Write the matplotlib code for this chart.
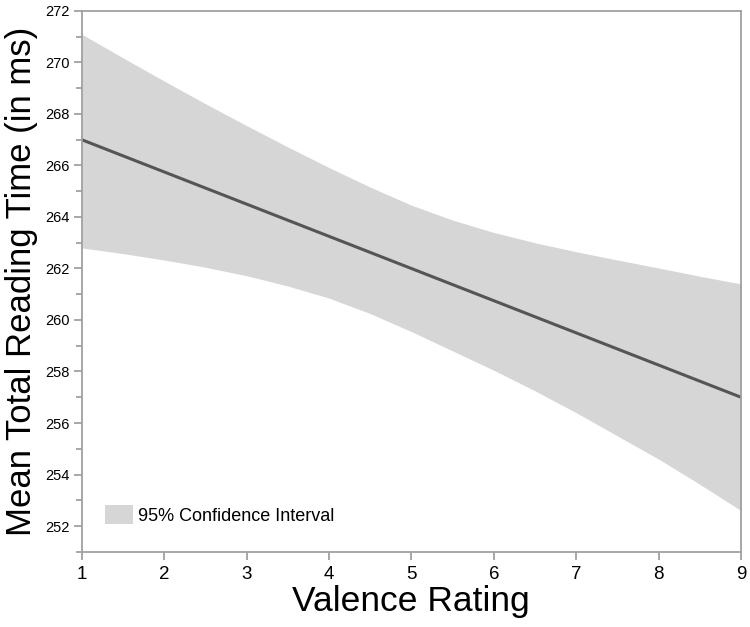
import matplotlib
matplotlib.use("Agg")
import matplotlib.pyplot as plt
from matplotlib.patches import Patch
from matplotlib.ticker import MultipleLocator

plt.rcParams['font.family'] = ['Liberation Sans', 'DejaVu Sans']

"""Regression line, read off the chart at integer ratings"""
valence = [1, 2, 3, 4, 5, 6, 7, 8, 9]
fit = [267.0, 265.75, 264.5, 263.25, 262.0, 260.75, 259.5, 258.25, 257.0]

"""Confidence band, read off the chart every half step"""
band_x = [1, 1.5, 2, 2.5, 3, 3.5, 4, 4.5, 5, 5.5, 6, 6.5, 7, 7.5, 8, 8.5, 9]
ci_upper = [271.1, 270.18, 269.28, 268.4, 267.55, 266.72, 265.92, 265.16, 264.46,
            263.88, 263.4, 263.0, 262.65, 262.33, 262.02, 261.7, 261.4]
ci_lower = [262.8, 262.58, 262.33, 262.05, 261.72, 261.32, 260.85, 260.25, 259.55,
            258.8, 258.05, 257.25, 256.4, 255.5, 254.6, 253.62, 252.6]

y_ticks = list(range(252, 273, 2))
x_ticks = list(range(1, 10))

spine_col = '#a0a0a0'

fig = plt.figure(figsize=(7.5, 6.27), dpi=100)
ax = fig.add_axes([0.109, 0.12, 0.879, 0.8625])

ax.fill_between(band_x, ci_lower, ci_upper, color='#d6d6d6', lw=0, zorder=1)
ax.plot(valence, fit, color='#555555', lw=2.2, zorder=2)

ax.set_xlim(1, 9)
ax.set_ylim(251, 272)
ax.set_xticks(x_ticks)
ax.set_yticks(y_ticks)
ax.yaxis.set_minor_locator(MultipleLocator(1))

for s in ax.spines.values():
    s.set_color(spine_col)
    s.set_linewidth(1.3)

ax.tick_params(axis='x', which='major', length=6, width=1.3, color=spine_col,
               labelsize=13.5, pad=4)
ax.tick_params(axis='y', which='major', length=6, width=1.3, color=spine_col,
               labelsize=10.5, pad=3)
ax.tick_params(axis='y', which='minor', length=4, width=1.3, color=spine_col)

ax.set_xlabel('Valence Rating', fontsize=25.5, labelpad=2)
ax.set_ylabel('Mean Total Reading Time (in ms)', fontsize=25, labelpad=5)

ax.legend(handles=[Patch(facecolor='#d6d6d6', edgecolor='none',
                         label='95% Confidence Interval')],
          loc='lower left', frameon=False, fontsize=13,
          handlelength=1.55, handleheight=1.3, handletextpad=0.3,
          bbox_to_anchor=(0.01, 0.02))

fig.savefig('out.png', dpi=100)
